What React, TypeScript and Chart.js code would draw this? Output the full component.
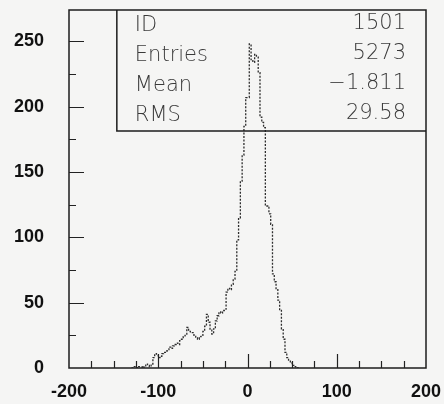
import React, { useEffect, useRef } from 'react';
import { Chart, registerables } from 'chart.js';

Chart.register(...registerables);

// Histogram: 2-unit bins starting at -130
const binStart = -130;
const binWidth = 2;
const counts = [
  0, 0, 1, 1, 0, 1, 1, 0, 1, 3, // -130 .. -112
  2, 1, 3, 8, 11, 10, 8, 9, 11, 12, // -110 .. -92
  13, 14, 16, 15, 17, 18, 19, 18, 21, 22, // -90 .. -72
  24, 25, 31, 28, 27, 27, 25, 23, 22, 24, // -70 .. -52
  25, 28, 32, 41, 35, 29, 26, 30, 36, 40, // -50 .. -32
  43, 42, 44, 45, 58, 61, 60, 64, 68, 74, // -30 .. -12
  98, 115, 143, 163, 185, 207, 207, 248, 236, 234, // -10 .. 8
  240, 238, 226, 192, 188, 184, 124, 124, 118, 110, // 10 .. 28
  72, 66, 60, 52, 44, 30, 22, 12, 8, 6, // 30 .. 48
  4, 2, 1, 0, // 50 .. 56
];

const xTickLabels = [-200, -100, 0, 100, 200];
const yTickLabels = [0, 50, 100, 150, 200, 250];
const xMinorTicks = [-175, -150, -125, -100, -75, -50, -25, 0, 25, 50, 75, 100, 125, 150, 175];
const yMinorTicks = [25, 50, 75, 100, 125, 150, 175, 200, 225, 250];

const statLabels = ['ID', 'Entries', 'Mean', 'RMS'];
const statValues = ['1501', '5273', '\u22121.811', '29.58'];

const X_MIN = -200;
const X_MAX = 200;
const Y_MIN = 0;
const Y_MAX = 274;

const framePlugin = {
  id: 'pawFrame',
  beforeDraw(chart: any) {
    const { ctx, width, height } = chart;
    ctx.save();
    ctx.fillStyle = '#f5f5f4';
    ctx.fillRect(0, 0, width, height);
    ctx.restore();
  },
  afterDraw(chart: any) {
    const { ctx, chartArea: a, scales } = chart;
    const xs = scales.x;
    const ys = scales.y;
    ctx.save();
    ctx.strokeStyle = '#1c1c1c';
    ctx.lineWidth = 1.5;
    ctx.strokeRect(a.left, a.top, a.right - a.left, a.bottom - a.top);

    // inward tick marks
    ctx.lineWidth = 1.2;
    ctx.strokeStyle = '#222';
    ctx.beginPath();
    for (const v of xMinorTicks) {
      const px = Math.round(xs.getPixelForValue(v)) + 0.5;
      const len = v % 100 === 0 ? 14 : 7;
      ctx.moveTo(px, a.bottom);
      ctx.lineTo(px, a.bottom - len);
    }
    for (const v of yMinorTicks) {
      const py = Math.round(ys.getPixelForValue(v)) + 0.5;
      const len = v % 50 === 0 ? 15 : 7;
      ctx.moveTo(a.left, py);
      ctx.lineTo(a.left + len, py);
    }
    ctx.stroke();

    // statistics box
    const w = a.right - a.left;
    const h = a.bottom - a.top;
    const boxLeft = a.left + 0.134 * w;
    const boxBottom = a.top + 0.338 * h;
    ctx.lineWidth = 1.5;
    ctx.strokeStyle = '#1c1c1c';
    ctx.beginPath();
    ctx.moveTo(boxLeft, a.top);
    ctx.lineTo(boxLeft, boxBottom);
    ctx.lineTo(a.right, boxBottom);
    ctx.stroke();

    ctx.fillStyle = '#3a3a3a';
    ctx.font = '200 21px "DejaVu Sans"';
    ctx.textBaseline = 'middle';
    const rowH = (boxBottom - a.top) / statLabels.length;
    statLabels.forEach((lab, i) => {
      const cy = a.top + rowH * (i + 0.5);
      ctx.textAlign = 'left';
      ctx.fillText(lab, boxLeft + 18, cy);
      ctx.textAlign = 'right';
      ctx.fillText(statValues[i], a.right - 20, cy - 2);
    });
    ctx.restore();
  },
};

export default function App() {
  const canvasRef = useRef<HTMLCanvasElement | null>(null);

  useEffect(() => {
    const canvas = canvasRef.current;
    if (!canvas) return;
    const points: { x: number; y: number }[] = [];
    counts.forEach((c, i) => {
      points.push({ x: binStart + i * binWidth, y: c });
    });
    points.push({ x: binStart + counts.length * binWidth, y: 0 });

    const tickFont = { family: '"Liberation Sans", Arial, sans-serif', size: 18, weight: 'bold' as const };

    const chart = new Chart(canvas, {
      type: 'line',
      data: {
        datasets: [
          {
            data: points,
            stepped: 'after',
            borderColor: '#2e2e2e',
            borderWidth: 1.3,
            borderDash: [2, 1.5],
            pointRadius: 0,
            fill: false,
          },
        ],
      },
      options: {
        animation: false,
        responsive: false,
        maintainAspectRatio: false,
        layout: { autoPadding: false, padding: { top: 10, right: 18, left: 0, bottom: 0 } },
        plugins: { legend: { display: false }, tooltip: { enabled: false } },
        scales: {
          x: {
            type: 'linear',
            min: X_MIN,
            max: X_MAX,
            afterBuildTicks: (s: any) => {
              s.ticks = xTickLabels.map((v) => ({ value: v }));
            },
            afterFit: (s: any) => {
              s.height = 36;
              s.paddingLeft = 0;
              s.paddingRight = 0;
            },
            grid: { display: false },
            border: { display: false },
            ticks: {
              font: tickFont,
              color: '#111',
              padding: 5,
              maxRotation: 0,
              autoSkip: false,
              callback: (v: any) => String(v),
            },
          },
          y: {
            type: 'linear',
            min: Y_MIN,
            max: Y_MAX,
            afterBuildTicks: (s: any) => {
              s.ticks = yTickLabels.map((v) => ({ value: v }));
            },
            afterFit: (s: any) => {
              s.width = 69;
              s.paddingTop = 0;
              s.paddingBottom = 0;
            },
            grid: { display: false },
            border: { display: false },
            ticks: {
              font: tickFont,
              color: '#111',
              padding: 17,
              autoSkip: false,
              callback: (v: any) => String(v),
            },
          },
        },
      },
      plugins: [framePlugin],
    });
    return () => chart.destroy();
  }, []);

  return (
    <div style={{ position: 'absolute', left: 0, top: 0, width: 444, height: 404 }}>
      <canvas ref={canvasRef} width={444} height={404} style={{ display: 'block', width: 444, height: 404 }} />
    </div>
  );
}
